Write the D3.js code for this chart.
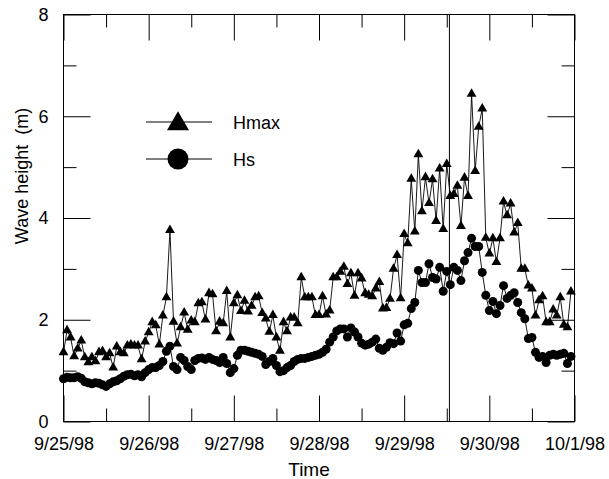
<!DOCTYPE html>
<html>
<head>
<meta charset="utf-8">
<script src="https://cdn.jsdelivr.net/npm/d3@7"></script>
<style>
    body {margin: 0; background: #fff}
    svg text {font-family: 'Liberation Sans', Arial, sans-serif; fill: #000}
</style>
</head>
<body>
<svg id="chart" width="609" height="479"></svg>
<script>

// hourly records, 9/25/98 00:00 onwards
const start = new Date(1998, 8, 25)
const end = new Date(1998, 9, 1)
const marker = new Date(1998, 8, 29, 12, 45)

const hmax = [
    1.36, 1.79, 1.65, 1.28, 1.43, 1.59, 1.26, 1.16, 1.26, 1.18, 1.36, 1.38,
    1.26, 1.34, 1.06, 1.47, 1.36, 1.34, 1.49, 1.51, 1.49, 1.49, 1.22, 1.57,
    1.75, 1.95, 1.89, 1.51, 2.08, 2.44, 3.76, 1.96, 1.53, 1.85, 2.14, 1.80,
    1.98, 1.95, 2.32, 2.34, 2.00, 2.52, 2.50, 1.77, 1.96, 1.93, 2.56, 1.65,
    2.32, 2.48, 2.17, 2.37, 2.16, 2.27, 2.44, 2.46, 2.13, 2.02, 1.76, 2.09,
    1.65, 1.39, 1.95, 1.77, 2.04, 2.04, 1.93, 2.83, 2.44, 2.44, 2.44, 2.09,
    2.09, 2.46, 2.10, 2.18, 2.83, 2.83, 2.94, 3.04, 2.70, 2.91, 2.47, 2.91,
    2.81, 2.52, 2.49, 2.46, 2.61, 2.74, 2.22, 2.23, 2.41, 3.00, 3.27, 2.42,
    3.68, 3.50, 4.77, 3.73, 5.25, 4.13, 4.80, 4.29, 4.76, 3.94, 4.97, 3.78,
    5.06, 4.43, 4.47, 4.63, 3.84, 4.79, 4.43, 6.44, 4.92, 5.79, 6.15, 3.61,
    3.30, 3.60, 3.13, 3.60, 4.32, 4.05, 4.28, 3.71, 3.90, 3.00, 3.00, 2.67,
    2.61, 2.08, 2.38, 2.46, 1.95, 1.95, 2.20, 2.08, 2.44, 1.90, 1.85, 2.55
]

const hs = [
    0.84, 0.87, 0.86, 0.86, 0.88, 0.85, 0.78, 0.76, 0.74, 0.76, 0.75, 0.72,
    0.69, 0.74, 0.78, 0.80, 0.84, 0.89, 0.92, 0.93, 0.90, 0.92, 0.88, 0.96,
    1.02, 1.06, 1.06, 1.10, 1.18, 1.38, 1.48, 1.08, 1.02, 1.26, 1.20, 1.08,
    1.02, 1.20, 1.24, 1.25, 1.22, 1.26, 1.22, 1.20, 1.16, 1.26, 1.14, 0.96,
    1.04, 1.30, 1.40, 1.40, 1.38, 1.36, 1.34, 1.32, 1.28, 1.12, 1.18, 1.24,
    1.10, 0.98, 1.00, 1.06, 1.10, 1.18, 1.22, 1.24, 1.24, 1.26, 1.28, 1.30,
    1.32, 1.36, 1.42, 1.56, 1.66, 1.78, 1.82, 1.82, 1.66, 1.84, 1.76, 1.66,
    1.54, 1.50, 1.52, 1.56, 1.62, 1.44, 1.40, 1.46, 1.55, 1.53, 1.74, 1.58,
    1.90, 1.93, 2.22, 2.34, 2.97, 2.73, 2.73, 3.10, 2.83, 2.80, 3.03, 2.56,
    2.95, 2.69, 3.03, 2.97, 2.77, 3.16, 3.32, 3.60, 3.44, 3.44, 2.93, 2.48,
    2.18, 2.36, 2.12, 2.28, 2.67, 2.42, 2.48, 2.53, 2.34, 2.14, 2.02, 1.63,
    1.65, 1.36, 1.26, 1.28, 1.16, 1.30, 1.32, 1.30, 1.32, 1.34, 1.14, 1.28
]

const yTicks = [0, 2, 4, 6, 8]
const yMinor = [1, 3, 5, 7]
const legendItems = ['Hmax', 'Hs']


const box = {left: 63.5, right: 574.5, top: 14.5, bottom: 421.5}

const x = d3.scaleTime()
    .domain([start, end])
    .range([box.left, box.right])

const y = d3.scaleLinear()
    .domain([0, 8])
    .range([box.bottom, box.top])

const timeAt = i => d3.timeHour.offset(start, i)

const svg = d3.select('#chart')


const drawAxes = () => {
    const fmt = d3.timeFormat('%-m/%-d/%y')
    const days = d3.timeDay.range(start, d3.timeDay.offset(end, 1))
    const halves = d3.timeHour.every(12).range(start, end).filter(d => d.getHours() === 12)

    const bottom = svg.append('g')
        .attr('transform', `translate(0,${box.bottom})`)
        .call(d3.axisBottom(x).tickValues(days).tickFormat(fmt)
            .tickSizeInner(-26).tickSizeOuter(0).tickPadding(16))
    bottom.selectAll('text').style('font-size', '18px')

    svg.append('g')
        .attr('transform', `translate(0,${box.bottom})`)
        .call(d3.axisBottom(x).tickValues(halves).tickFormat('')
            .tickSizeInner(-13).tickSizeOuter(0))

    svg.append('g')
        .attr('transform', `translate(0,${box.top})`)
        .call(d3.axisTop(x).tickValues(days).tickFormat('')
            .tickSizeInner(-26).tickSizeOuter(0))

    svg.append('g')
        .attr('transform', `translate(0,${box.top})`)
        .call(d3.axisTop(x).tickValues(halves).tickFormat('')
            .tickSizeInner(-13).tickSizeOuter(0))

    const left = svg.append('g')
        .attr('transform', `translate(${box.left},0)`)
        .call(d3.axisLeft(y).tickValues(yTicks)
            .tickSizeInner(-27).tickSizeOuter(0).tickPadding(15))
    left.selectAll('text').style('font-size', '18px')

    svg.append('g')
        .attr('transform', `translate(${box.left},0)`)
        .call(d3.axisLeft(y).tickValues(yMinor).tickFormat('')
            .tickSizeInner(-13).tickSizeOuter(0))

    svg.append('g')
        .attr('transform', `translate(${box.right},0)`)
        .call(d3.axisRight(y).tickValues(yTicks).tickFormat('')
            .tickSizeInner(-27).tickSizeOuter(0))

    svg.append('g')
        .attr('transform', `translate(${box.right},0)`)
        .call(d3.axisRight(y).tickValues(yMinor).tickFormat('')
            .tickSizeInner(-13).tickSizeOuter(0))

    svg.selectAll('.domain').remove()
    svg.selectAll('.tick line').attr('stroke', '#000')

    svg.append('rect')
        .attr('x', box.left)
        .attr('y', box.top)
        .attr('width', box.right - box.left)
        .attr('height', box.bottom - box.top)
        .attr('fill', 'none')
        .attr('stroke', '#000')

    svg.append('text')
        .attr('x', 309)
        .attr('y', 476)
        .attr('text-anchor', 'middle')
        .style('font-size', '19px')
        .text('Time')

    svg.append('text')
        .attr('transform', 'translate(28,176) rotate(-90)')
        .attr('text-anchor', 'middle')
        .style('font-size', '18px')
        .style('white-space', 'pre')
        .text('Wave height  (m)')
}


const line = d3.line()
    .x((d, i) => x(timeAt(i)))
    .y(d => y(d))

const triangle = size => d3.symbol(d3.symbolTriangle, size)

const drawSeries = () => {
    svg.append('line')
        .attr('x1', x(marker))
        .attr('x2', x(marker))
        .attr('y1', box.top)
        .attr('y2', box.bottom)
        .attr('stroke', '#000')

    svg.append('path')
        .datum(hmax)
        .attr('d', line)
        .attr('fill', 'none')
        .attr('stroke', '#000')
        .attr('stroke-width', 0.9)

    svg.append('g')
        .selectAll('path')
        .data(hmax)
        .join('path')
        .attr('d', triangle(42))
        .attr('transform', (d, i) => `translate(${x(timeAt(i))},${y(d)})`)
        .attr('fill', '#000')

    svg.append('path')
        .datum(hs)
        .attr('d', line)
        .attr('fill', 'none')
        .attr('stroke', '#000')
        .attr('stroke-width', 0.9)

    svg.append('g')
        .selectAll('circle')
        .data(hs)
        .join('circle')
        .attr('cx', (d, i) => x(timeAt(i)))
        .attr('cy', d => y(d))
        .attr('r', 4.5)
        .attr('fill', '#000')
}


const drawLegend = () => {
    const rows = svg.append('g')
        .selectAll('g')
        .data(legendItems)
        .join('g')
        .attr('transform', (d, i) => `translate(0,${i ? 159 : 122})`)

    rows.append('line')
        .attr('x1', 146)
        .attr('x2', 212)
        .attr('stroke', '#000')

    rows.filter((d, i) => i === 0)
        .append('path')
        .attr('d', triangle(210))
        .attr('transform', 'translate(178,2)')

    rows.filter((d, i) => i === 1)
        .append('circle')
        .attr('cx', 178)
        .attr('r', 10.5)

    rows.append('text')
        .attr('x', 233)
        .attr('y', 6.5)
        .style('font-size', '18px')
        .text(d => d)
}


drawAxes()
drawSeries()
drawLegend()

</script>
</body>
</html>
